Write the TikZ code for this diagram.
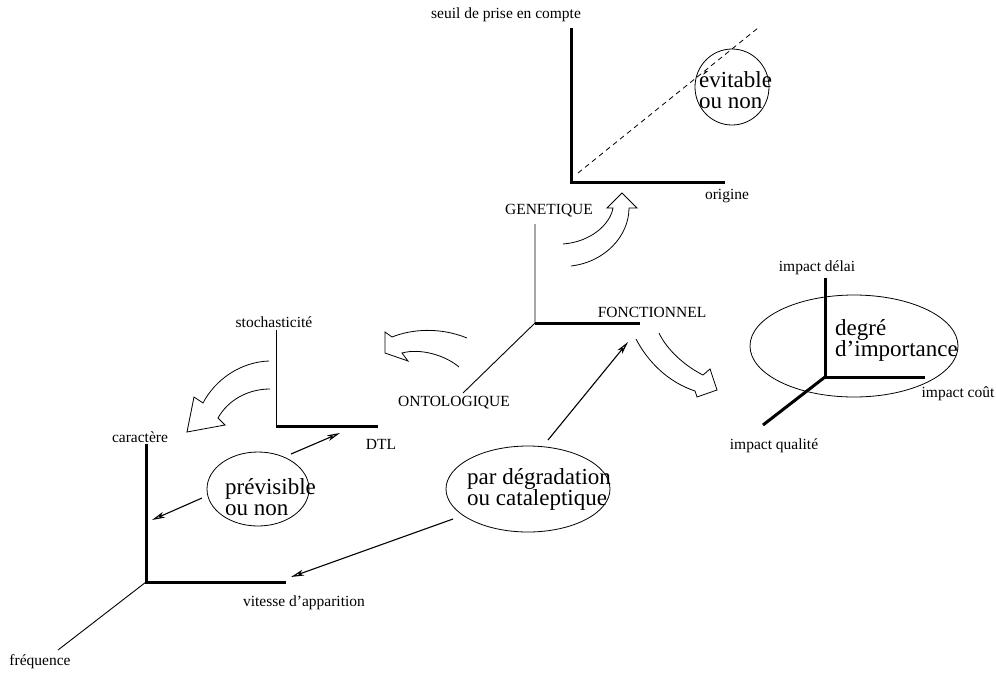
\documentclass[tikz,border=0pt]{standalone}
\usepackage{fontspec}
\setmainfont{Liberation Serif}
\usetikzlibrary{shapes.geometric,arrows.meta}
\begin{document}
\begin{tikzpicture}[x=1pt,y=-1pt,
  thinax/.style={line width=0.9pt},
  thickax/.style={line width=3pt,line join=miter},
  lab/.style={font=\fontsize{15.5}{18}\selectfont,inner sep=0pt},
  big/.style={font=\fontsize{23}{21}\selectfont,align=left,inner sep=0pt},
  oval/.style={draw,ellipse,line width=0.8pt,inner sep=0pt},
  fat/.style={line width=0.8pt,line join=miter},
  arr/.style={line width=1.1pt,-{Stealth[open,length=13pt,width=6pt,inset=3.5pt]}}]
\useasboundingbox (0,0) rectangle (996,673);

% ---- top graph (GENETIQUE)
\coordinate (t0) at (571,182);
\coordinate (ty) at (571,28);
\coordinate (tx) at (725,182);
\coordinate (td0) at (578,173);
\coordinate (td1) at (758,28);
\draw[thickax] (ty) -- (t0) -- (tx);
\draw[line width=0.8pt,dash pattern=on 5pt off 4pt] (td0) -- (td1);
\node[lab] (seuil) at (506,15) {seuil de prise en compte};
\node[lab] (origine) at (727,196) {origine};
\node[oval,minimum width=74pt,minimum height=76pt] (evit) at (732,87) {};
\node[big,anchor=west] (evittxt) at (699,90) {évitable\\ou non};

% ---- central graph
\coordinate (c0) at (535,323);
\coordinate (cy) at (535,224);
\coordinate (cx) at (640,323);
\coordinate (cz) at (463,393);
\draw[thinax] (cy) -- (c0) -- (cz);
\draw[thickax] (c0) -- (cx);
\node[lab] (gen) at (549,211) {GENETIQUE};
\node[lab] (fonc) at (652,312) {FONCTIONNEL};
\node[lab] (onto) at (454,403) {ONTOLOGIQUE};

% ---- stochasticite graph
\coordinate (s0) at (276,426);
\coordinate (sy) at (276,330);
\coordinate (sx) at (378,426);
\draw[thinax] (sy) -- (s0);
\draw[thickax] (s0) -- (sx);
\node[lab] (stoch) at (274,322) {stochasticité};
\node[lab] (dtl) at (381,444) {DTL};

% ---- caractere graph
\coordinate (k0) at (146,582);
\coordinate (ky) at (146,444);
\coordinate (kx) at (286,582);
\coordinate (kz) at (58,650);
\draw[thickax] (ky) -- (k0) -- (kx);
\draw[thinax] (k0) -- (kz);
\node[lab] (car) at (140,437) {caractère};
\node[lab] (vit) at (304,603) {vitesse d’apparition};
\node[lab] (freq) at (40,662) {fréquence};
\node[oval,minimum width=102pt,minimum height=74pt] (prev) at (258,489) {};
\node[big,anchor=west] (prevtxt) at (225,497) {prévisible\\ou non};

% ---- impact graph
\coordinate (i0) at (825,377);
\coordinate (iy) at (825,278);
\coordinate (ix) at (925,377);
\coordinate (iz) at (763,425);
\draw[thickax] (iy) -- (i0) -- (ix);
\draw[thickax] (i0) -- (iz);
\node[lab] (idel) at (817,268) {impact délai};
\node[lab] (icout) at (958,394) {impact coût};
\node[lab] (iqual) at (774,446) {impact qualité};
\node[oval,minimum width=208pt,minimum height=102pt] (degre) at (854,346) {};
\node[big,anchor=west] (degretxt) at (835,340) {degré\\d’importance};

% ---- par degradation
\node[oval,minimum width=164pt,minimum height=86pt] (pdeg) at (528,489) {};
\node[big,anchor=west] (pdegtxt) at (467,489) {par dégradation\\ou cataleptique};

% ---- thin arrows
\coordinate (a1s) at (291,454);
\coordinate (a1e) at (340,433);
\coordinate (a2s) at (202,498);
\coordinate (a2e) at (152,520);
\coordinate (a3s) at (453,519);
\coordinate (a3e) at (291,577);
\coordinate (a4s) at (548,440);
\coordinate (a4e) at (628,342);
\draw[arr] (a1s) -- (a1e);
\draw[arr] (a2s) -- (a2e);
\draw[arr] (a3s) -- (a3e);
\draw[arr] (a4s) -- (a4e);

% ---- fat curved arrows
\draw[fat] (563,244) .. controls (590,242) and (610,225) .. (613,208)
  -- (607,208) -- (622,193) -- (637,208) -- (629,208)
  .. controls (629,236) and (605,262) .. (571,266);
\draw[fat] (467,338) .. controls (440,327) and (412,329) .. (392,337)
  -- (385,332) -- (385,353) -- (408,361) -- (402,353)
  .. controls (420,348) and (445,355) .. (459,367);
\draw[fat] (269,361) .. controls (240,362) and (215,380) .. (203,403)
  -- (194,397) -- (187,432) -- (225,425) -- (218,418)
  .. controls (228,400) and (248,389) .. (270,389);
\draw[fat] (659,333) .. controls (667,350) and (685,366) .. (703,375)
  -- (710,369) -- (717,390) -- (697,397) -- (695,391)
  .. controls (668,382) and (648,362) .. (636,339);
\end{tikzpicture}
\end{document}
